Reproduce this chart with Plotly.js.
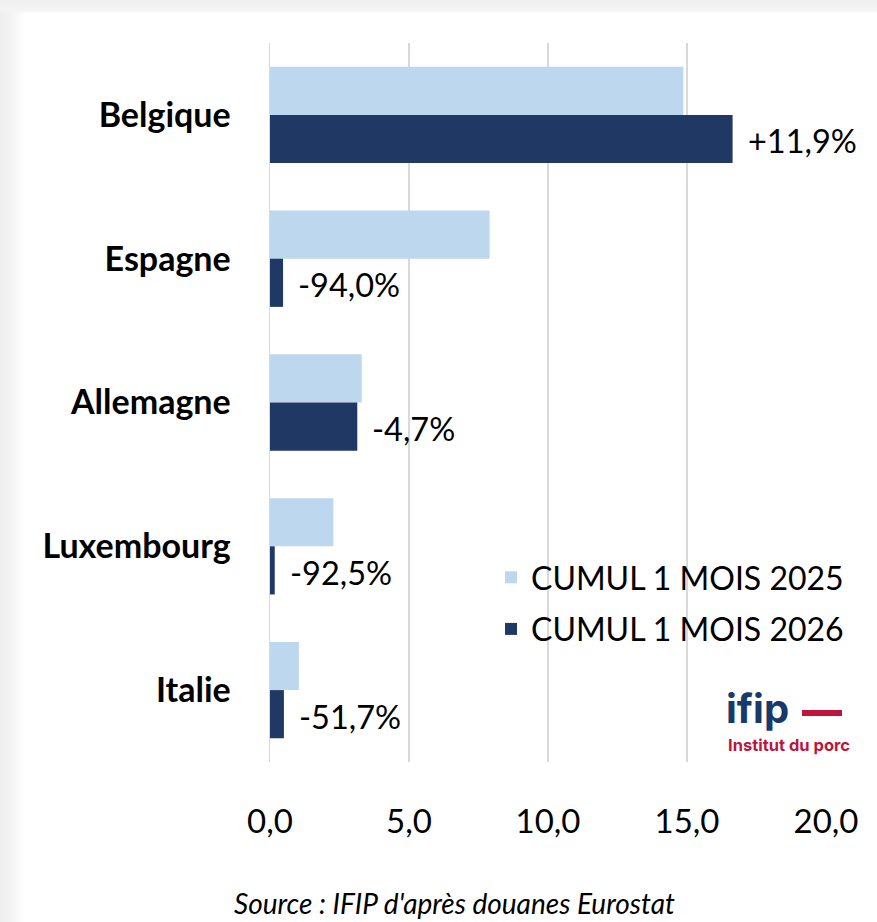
<!DOCTYPE html>
<html>
<head>
<meta charset="utf-8">
<script src="https://cdn.plot.ly/plotly-3.0.1.min.js"></script>
<style>
html,body{margin:0;padding:0;}
body{width:877px;height:922px;overflow:hidden;
background:
 linear-gradient(to bottom,#efefef 0px,#f4f4f4 10px,rgba(255,255,255,0) 14px),
 linear-gradient(to right,#eeeeee 0px,#f3f3f3 12px,#fbfbfb 20px,#ffffff 25px);}
#chart{width:877px;height:922px;}
</style>
</head>
<body>
<div id="chart"></div>
<script>
const categories = ["Belgique","Espagne","Allemagne","Luxembourg","Italie"];
const values2025 = [14.87, 7.9, 3.3, 2.28, 1.04];
const values2026 = [16.64, 0.47, 3.14, 0.17, 0.50];
const changeLabels = ["+11,9%","-94,0%","-4,7%","-92,5%","-51,7%"];
const seriesNames = ["CUMUL 1 MOIS 2025","CUMUL 1 MOIS 2026"];
const tickVals = [0,5,10,15,20];
const tickText = ["0,0","5,0","10,0","15,0","20,0"];

const FONT = "Lato, 'Open Sans', sans-serif";

const traces = [
 {type:"bar", orientation:"h", name:seriesNames[0], y:categories, x:values2025,
  marker:{color:"#bdd7ee"}, legendgroup:"a", hoverinfo:"x"},
 {type:"bar", orientation:"h", name:seriesNames[1], y:categories, x:values2026,
  marker:{color:"#203864"}, legendgroup:"b", hoverinfo:"x"}
];

const annotations = categories.map((c,i)=>({
  x:values2026[i], y:c, xref:"x", yref:"y", text:changeLabels[i],
  showarrow:false, xanchor:"left", yanchor:"middle", xshift:13, yshift:-26,
  font:{family:FONT, size:32.5, color:"#000"}
}));
annotations.push({
  xref:"paper", yref:"paper", x:(454-270)/556, y:-(903-762)/719, text:"<i>Source : IFIP d'après douanes Eurostat</i>",
  showarrow:false, xanchor:"center", yanchor:"middle", font:{family:FONT, size:28, color:"#000"}
});
annotations.push({
  xref:"paper", yref:"paper", x:(724-270)/556, y:(762-708)/719, text:"<b>ifip</b>",
  showarrow:false, xanchor:"left", yanchor:"middle", font:{family:"Inter, Roboto, sans-serif", size:40, color:"#173a6b"}
});
annotations.push({
  xref:"paper", yref:"paper", x:(726-270)/556, y:(762-745)/719, text:"<b>Institut du porc</b>",
  showarrow:false, xanchor:"left", yanchor:"middle", font:{family:"Inter, Roboto, sans-serif", size:16.5, color:"#c0143c"}
});

const layout = {
  width:877, height:922,
  margin:{l:270, r:51, t:43, b:160, pad:0},
  paper_bgcolor:"rgba(0,0,0,0)", plot_bgcolor:"rgba(0,0,0,0)",
  barmode:"group", bargap:0.33, bargroupgap:0,
  font:{family:FONT, color:"#000"},
  xaxis:{range:[0,20], tickvals:tickVals, ticktext:tickText, showgrid:true, gridcolor:"#d9d9d9", gridwidth:1.5,
         zeroline:false, showline:false, ticks:"", ticklabelstandoff:37, tickfont:{family:FONT, size:33, color:"#000"}, fixedrange:true},
  yaxis:{autorange:"reversed", showgrid:false, zeroline:false, showline:true, linecolor:"#d9d9d9", linewidth:1.5,
         ticks:"", ticklabelstandoff:31, tickfont:{family:FONT, size:34, color:"#000", weight:"bold"}, fixedrange:true},
  showlegend:true,
  legend:{x:(491-270)/556, y:(762-550)/719, xanchor:"left", yanchor:"top", bgcolor:"rgba(0,0,0,0)",
          font:{family:FONT, size:32, color:"#000"}, tracegroupgap:7, traceorder:"grouped"},
  shapes:[
    {type:"line", xref:"paper", yref:"paper", x0:(802-270)/556, x1:(842-270)/556, y0:(762-713)/719, y1:(762-713)/719,
     line:{color:"#c0143c", width:6}}
  ],
  annotations:annotations
};

Plotly.newPlot("chart", traces, layout, {displayModeBar:false, staticPlot:true});
</script>
</body>
</html>
